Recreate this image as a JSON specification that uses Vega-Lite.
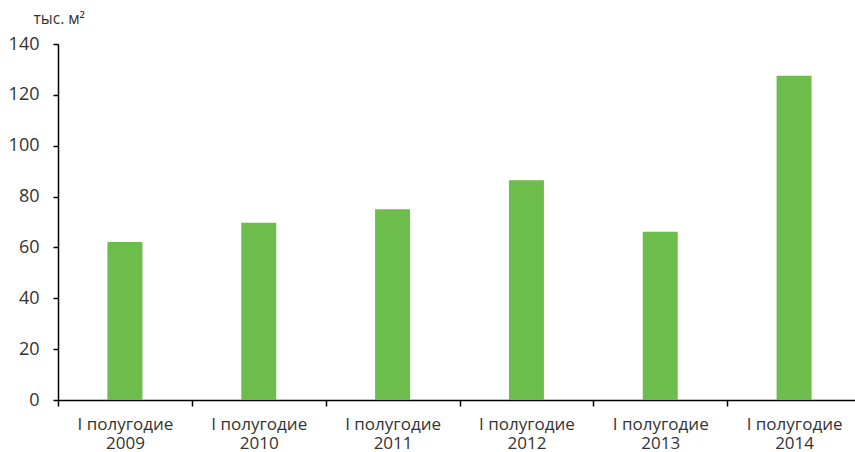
{
  "$schema": "https://vega.github.io/schema/vega-lite/v6.json",
  "width": 803,
  "height": 356,
  "autosize": {"type": "none"},
  "padding": {"left": 58, "top": 44, "right": 0, "bottom": 52},
  "background": "white",
  "config": {
    "view": {"stroke": null},
    "font": "Open Sans"
  },
  "data": {
    "values": [
      {"year": "2009", "area": 62.1},
      {"year": "2010", "area": 69.7},
      {"year": "2011", "area": 75.0},
      {"year": "2012", "area": 86.4},
      {"year": "2013", "area": 66.2},
      {"year": "2014", "area": 127.5}
    ]
  },
  "mark": {"type": "bar", "color": "#6cbd4b", "width": 35},
  "encoding": {
    "x": {
      "field": "year",
      "type": "nominal",
      "sort": null,
      "scale": {"paddingInner": 0, "paddingOuter": 0},
      "axis": {
        "title": null,
        "labelAngle": 0,
        "labelExpr": "datum.value ? ['I полугодие', datum.value] : ''",
        "labelFont": "Open Sans",
        "labelFontSize": 17,
        "labelColor": "#333333",
        "labelLineHeight": 19,
        "labelPadding": 10,
        "tickBand": "extent",
        "tickSize": 6,
        "tickColor": "#000000",
        "tickWidth": 1.5,
        "domainColor": "#000000",
        "domainWidth": 1.5
      }
    },
    "y": {
      "field": "area",
      "type": "quantitative",
      "scale": {"domain": [0, 140], "nice": false},
      "axis": {
        "values": [0, 20, 40, 60, 80, 100, 120, 140],
        "grid": false,
        "title": "тыс. м²",
        "titleAngle": 0,
        "titleAlign": "left",
        "titleBaseline": "alphabetic",
        "titleX": -25,
        "titleY": -21,
        "titleFont": "Open Sans",
        "titleFontSize": 15.5,
        "titleFontWeight": "normal",
        "titleColor": "#333333",
        "labelFont": "Open Sans",
        "labelFontSize": 18,
        "labelColor": "#333333",
        "labelPadding": 14,
        "tickSize": 5,
        "tickColor": "#000000",
        "tickWidth": 1.5,
        "domainColor": "#000000",
        "domainWidth": 1.5
      }
    }
  }
}
